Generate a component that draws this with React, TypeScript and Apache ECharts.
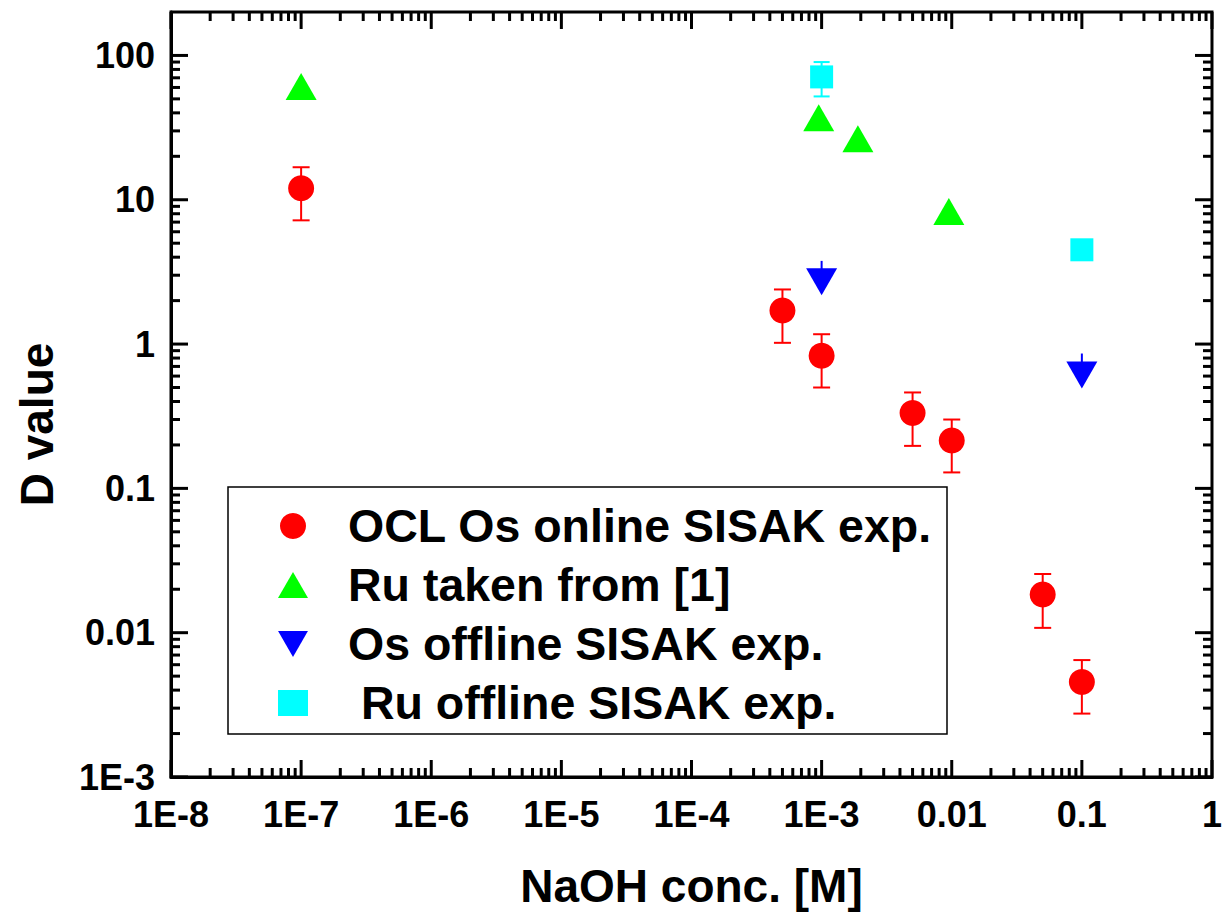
import React, { useEffect, useRef } from "react";
import * as echarts from "echarts";

const FONT = "'Liberation Sans', Arial, Helvetica, sans-serif";

// Tick labels
const xTickLabels = ["1E-8", "1E-7", "1E-6", "1E-5", "1E-4", "1E-3", "0.01", "0.1", "1"];
const xMinExp = -8;
const yTickLabels = ["1E-3", "0.01", "0.1", "1", "10", "100"];
const yMinExp = -3;
const minorMultipliers = [2, 3, 4, 5, 6, 7, 8, 9];

// Axis ranges
const xMin = 1e-8;
const xMax = 1;
const yMin = 1e-3;
const yMax = 200;

// OCL Os online SISAK exp.
const oclX = [1e-7, 5e-4, 1e-3, 5e-3, 1e-2, 5e-2, 1e-1];
const oclY = [12.0, 1.71, 0.83, 0.333, 0.215, 0.0184, 0.00456];
const oclLow = [7.2, 1.02, 0.5, 0.197, 0.129, 0.0108, 0.00275];
const oclHigh = [16.8, 2.39, 1.17, 0.462, 0.3, 0.0255, 0.00646];

// Ru taken from [1]
const ruLitX = [1e-7, 9.5e-4, 1.9e-3, 9.5e-3];
const ruLitY = [61, 37, 26.5, 8.3];

// Os offline SISAK exp.
const osOffX = [1e-3, 1e-1];
const osOffY = [2.7, 0.61];
const osOffLow = [2.7, 0.61];
const osOffHigh = [3.77, 0.86];

// Ru offline SISAK exp.
const ruOffX = [1e-3, 1e-1];
const ruOffY = [71, 4.5];
const ruOffLow = [52, 4.5];
const ruOffHigh = [90, 4.5];

const names = [
  "OCL Os online SISAK exp.",
  "Ru taken from [1]",
  "Os offline SISAK exp.",
  " Ru offline SISAK exp.",
];
const colors = ["#ff0000", "#00ff00", "#0000ff", "#00ffff"];

function zip(a: number[], b: number[]) {
  return a.map((v, i) => [v, b[i]]);
}
function zip3(a: number[], b: number[], c: number[]) {
  return a.map((v, i) => [v, b[i], c[i]]);
}

function labelFor(labels: string[], minExp: number) {
  return (v: number) => {
    const e = Math.log10(v);
    const r = Math.round(e);
    if (Math.abs(e - r) > 1e-6) return "";
    const idx = r - minExp;
    return labels[idx] ?? "";
  };
}

function errorSeries(
  name: string,
  color: string,
  x: number[],
  lo: number[],
  hi: number[],
  capHalf: number
) {
  return {
    name,
    type: "custom",
    z: 2,
    clip: false,
    silent: true,
    encode: { x: 0, y: [1, 2] },
    data: zip3(x, lo, hi),
    renderItem: (params: any, api: any) => {
      const xv = api.value(0);
      const p1 = api.coord([xv, api.value(1)]);
      const p2 = api.coord([xv, api.value(2)]);
      const style = { stroke: color, lineWidth: 2, fill: "none" };
      const children: any[] = [
        { type: "line", shape: { x1: p1[0], y1: p1[1], x2: p2[0], y2: p2[1] }, style },
      ];
      if (capHalf > 0) {
        children.push(
          { type: "line", shape: { x1: p1[0] - capHalf, y1: p1[1], x2: p1[0] + capHalf, y2: p1[1] }, style },
          { type: "line", shape: { x1: p2[0] - capHalf, y1: p2[1], x2: p2[0] + capHalf, y2: p2[1] }, style }
        );
      }
      return { type: "group", children };
    },
  };
}

function buildTicks(minExp: number, count: number, maxVal: number) {
  const out: number[][] = [];
  for (let k = 0; k < count; k++) {
    const base = Math.pow(10, minExp + k);
    if (base <= maxVal * 1.0001) out.push([base, 17]);
    for (const m of minorMultipliers) {
      const v = base * m;
      if (v < maxVal * 0.999) out.push([v, 9]);
    }
  }
  return out;
}

export default function App() {
  const ref = useRef<HTMLDivElement>(null);
  useEffect(() => {
    if (!ref.current) return;
    const chart = echarts.init(ref.current, undefined, { renderer: "svg" });

    const xTicks = buildTicks(xMinExp, xTickLabels.length, xMax).map((t) => [t[0], 1, t[1]]);
    const yTicks = buildTicks(yMinExp, yTickLabels.length + 1, yMax).map((t) => [1e-4, t[0], t[1]]);

    const tickStyle = { stroke: "#000", lineWidth: 3 };

    const option: any = {
      animation: false,
      backgroundColor: "#fff",
      grid: {
        left: 171,
        top: 12,
        right: 7,
        bottom: 130,
        show: true,
        borderColor: "#000",
        borderWidth: 3,
        backgroundColor: "transparent",
      },
      xAxis: {
        type: "log",
        logBase: 10,
        min: xMin,
        max: xMax,
        splitNumber: 8,
        name: "NaOH conc. [M]",
        nameLocation: "middle",
        nameGap: 86,
        nameTextStyle: { fontSize: 46, fontWeight: "bold", color: "#000", fontFamily: FONT },
        axisLine: { show: true, lineStyle: { color: "#000", width: 3 } },
        axisTick: { show: false },
        splitLine: { show: false },
        minorTick: { show: false },
        axisLabel: {
          margin: 19,
          fontSize: 36,
          fontWeight: "bold",
          color: "#000",
          fontFamily: FONT,
          formatter: labelFor(xTickLabels, xMinExp),
        },
      },
      yAxis: {
        type: "log",
        logBase: 10,
        min: yMin,
        max: yMax,
        splitNumber: 5,
        name: "D value",
        nameLocation: "middle",
        nameGap: 111,
        nameRotate: 90,
        nameTextStyle: {
          fontSize: 46,
          fontWeight: "bold",
          color: "#000",
          fontFamily: FONT,
          padding: [0, 60, 0, 0],
        },
        axisLine: { show: true, lineStyle: { color: "#000", width: 3 } },
        axisTick: { show: false },
        splitLine: { show: false },
        minorTick: { show: false },
        axisLabel: {
          margin: 16,
          fontSize: 36,
          fontWeight: "bold",
          color: "#000",
          fontFamily: FONT,
          formatter: labelFor(yTickLabels, yMinExp),
        },
      },
      legend: {
        orient: "vertical",
        left: 228,
        top: 486,
        padding: [15, 10, 5, 50],
        itemWidth: 30,
        itemHeight: 26,
        itemGap: 9,
        selectedMode: false,
        symbolRotate: "inherit",
        data: [
          { name: names[0] },
          { name: names[1] },
          { name: names[2], icon: "path://M0,0 L31,0 L15.5,27 Z" },
          { name: names[3] },
        ],
        textStyle: {
          fontSize: 46.5,
          fontWeight: "bold",
          color: "#000",
          fontFamily: FONT,
          lineHeight: 50,
          padding: [0, 0, 0, 35],
        },
      },
      graphic: [
        {
          type: "rect",
          z: 0,
          shape: { x: 228, y: 487, width: 719, height: 247 },
          style: { fill: "none", stroke: "#000", lineWidth: 1.5 },
        },
      ],
      series: [
        errorSeries("err-ocl", colors[0], oclX, oclLow, oclHigh, 8.5),
        errorSeries("err-osoff", colors[2], osOffX, osOffLow, osOffHigh, 0),
        errorSeries("err-ruoff", colors[3], ruOffX, ruOffLow, ruOffHigh, 8),
        {
          name: names[0],
          type: "scatter",
          z: 3,
          symbol: "circle",
          symbolSize: 26,
          itemStyle: { color: colors[0], opacity: 1 },
          data: zip(oclX, oclY),
        },
        {
          name: names[1],
          type: "scatter",
          z: 3,
          symbol: "triangle",
          symbolSize: [31, 27],
          itemStyle: { color: colors[1], opacity: 1 },
          data: zip(ruLitX, ruLitY),
        },
        {
          name: names[2],
          type: "scatter",
          z: 3,
          symbol: "triangle",
          symbolRotate: 180,
          symbolSize: [31, 27],
          itemStyle: { color: colors[2], opacity: 1 },
          data: zip(osOffX, osOffY),
        },
        {
          name: names[3],
          type: "scatter",
          z: 3,
          symbol: "rect",
          symbolSize: 23,
          itemStyle: { color: colors[3], opacity: 1 },
          data: zip(ruOffX, ruOffY),
        },
        {
          name: "x-ticks",
          type: "custom",
          z: 5,
          clip: false,
          silent: true,
          encode: { x: 0, y: 1 },
          data: xTicks,
          renderItem: (params: any, api: any) => {
            const cs = params.coordSys;
            const px = api.coord([api.value(0), 1])[0];
            const len = api.value(2);
            const bottom = cs.y + cs.height;
            return {
              type: "group",
              children: [
                { type: "line", shape: { x1: px, y1: bottom, x2: px, y2: bottom - len }, style: tickStyle },
                { type: "line", shape: { x1: px, y1: cs.y, x2: px, y2: cs.y + len }, style: tickStyle },
              ],
            };
          },
        },
        {
          name: "y-ticks",
          type: "custom",
          z: 5,
          clip: false,
          silent: true,
          encode: { x: 0, y: 1 },
          data: yTicks,
          renderItem: (params: any, api: any) => {
            const cs = params.coordSys;
            const py = api.coord([1e-4, api.value(1)])[1];
            const len = api.value(2);
            const right = cs.x + cs.width;
            return {
              type: "group",
              children: [
                { type: "line", shape: { x1: cs.x, y1: py, x2: cs.x + len, y2: py }, style: tickStyle },
                { type: "line", shape: { x1: right, y1: py, x2: right - len, y2: py }, style: tickStyle },
              ],
            };
          },
        },
      ],
    };
    chart.setOption(option);
    return () => chart.dispose();
  }, []);
  return (
    <div
      ref={ref}
      style={{ position: "fixed", left: 0, top: 0, width: 1225, height: 914, background: "#fff" }}
    />
  );
}
